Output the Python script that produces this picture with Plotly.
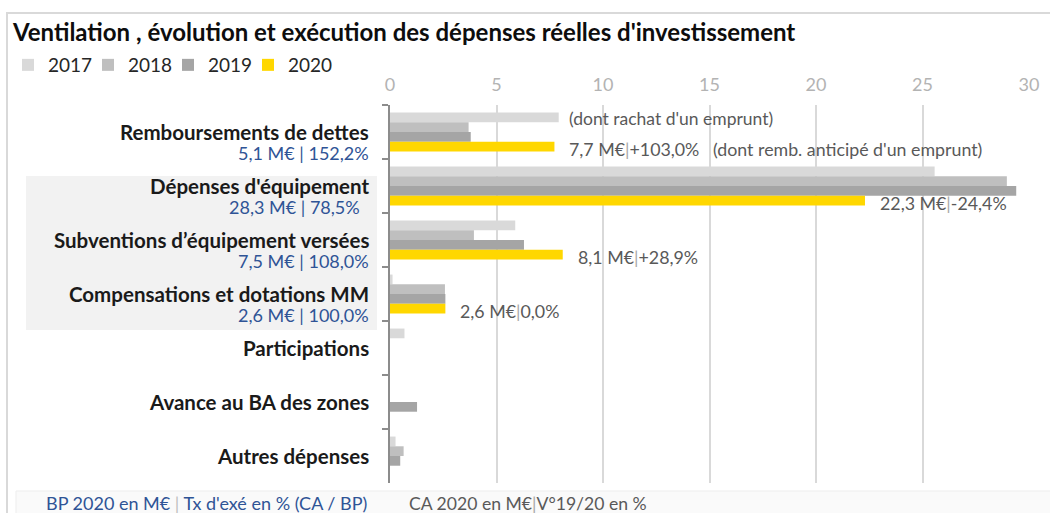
import plotly.graph_objects as go

# ---------------- data ----------------
categories = [
    "Remboursements de dettes",
    "Dépenses d'équipement",
    "Subventions d’équipement versées",
    "Compensations et dotations MM",
    "Participations",
    "Avance au BA des zones",
    "Autres dépenses",
]
bp_labels = ["5,1 M€ | 152,2%", "28,3 M€ | 78,5%  ", "7,5 M€ | 108,0%", "2,6 M€ | 100,0%", "", "", ""]

years = ["2017", "2018", "2019", "2020"]
v2017 = [7.92, 25.57, 5.88, 0.12, 0.68, 0.0, 0.26]
v2018 = [3.69, 28.96, 3.94, 2.58, 0.0, 0.0, 0.64]
v2019 = [3.79, 29.40, 6.29, 2.60, 0.0, 1.27, 0.48]
v2020 = [7.72, 22.30, 8.11, 2.60, 0.0, 0.0, 0.0]
series = [v2017, v2018, v2019, v2020]

ca_labels = ["7,7 M€", "22,3 M€", "8,1 M€", "2,6 M€", "", "", ""]
var_labels = ["+103,0%", "-24,4%", "+28,9%", "0,0%", "", "", ""]
note_2017 = ["(dont rachat d'un emprunt)", "", "", "", "", "", ""]
note_2020 = ["(dont remb. anticipé d'un emprunt)", "", "", "", "", "", ""]

x_ticks = [0, 5, 10, 15, 20, 25, 30]

title = "Ventilation , évolution et exécution des dépenses réelles d'investissement"
SEP_BLUE = "<span style='color:#BFBFBF'>|</span>"
SEP_GREY = "<span style='color:#A6A6A6'>|</span>"
footer_left = "BP 2020 en M€ " + SEP_BLUE + " Tx d'exé en % (CA / BP)"
footer_right = "CA 2020 en M€" + SEP_GREY + "V°19/20 en %"

# ---------------- style ----------------
colors = ["#D9D9D9", "#BFBFBF", "#A5A5A5", "#FFD700"]
legend_widths = [35, 35, 35, 55]
FONT = "Lato"
W, H = 1050, 513
L, R, T, B = 390, 21, 105, 30
PW, PH = W - L - R, H - T - B


def px_x(px):
    return (px - L) / PW


def px_y(py):
    return (H - B - py) / PH


fig = go.Figure()
for name, vals, col, lw in zip(years, series, colors, legend_widths):
    fig.add_trace(go.Bar(
        y=categories, x=vals, name=name, orientation="h",
        marker=dict(color=col, line=dict(width=0)), legendwidth=lw,
        hovertemplate="%{y}<br>" + name + ": %{x:.1f} M€<extra></extra>",
    ))

annotations = []
# category labels + BP sublabels
for cat, bp in zip(categories, bp_labels):
    annotations.append(dict(
        x=px_x(371), xref="paper", y=cat, yref="y", xanchor="right", yanchor="middle",
        text=cat, showarrow=False, font=dict(family=FONT, size=20.5, color="#1A1A1A", weight="bold"),
    ))
    if bp:
        annotations.append(dict(
            x=px_x(371), xref="paper", y=cat, yref="y", xanchor="right", yanchor="middle",
            yshift=-21, text=bp, showarrow=False,
            font=dict(family=FONT, size=18, color="#2F5496"),
        ))

# value labels next to 2020 bars
for cat, val, ca, var, note in zip(categories, v2020, ca_labels, var_labels, note_2020):
    if not ca:
        continue
    txt = ca + SEP_GREY + var
    if note:
        txt += "   " + note
    annotations.append(dict(
        x=val, xref="x", y=cat, yref="y", xanchor="left", yanchor="middle",
        xshift=13, yshift=-17, text=txt, showarrow=False,
        font=dict(family=FONT, size=17.8, color="#595959"),
    ))
# note next to 2017 bar
for cat, val, note in zip(categories, v2017, note_2017):
    if note:
        annotations.append(dict(
            x=val, xref="x", y=cat, yref="y", xanchor="left", yanchor="middle",
            xshift=8, yshift=14, text=note, showarrow=False,
            font=dict(family=FONT, size=17.5, color="#595959"),
        ))

# footer
annotations.append(dict(x=px_x(44), xref="paper", y=px_y(503), yref="paper",
                        xanchor="left", yanchor="middle", text=footer_left, showarrow=False,
                        font=dict(family=FONT, size=18, color="#2F5496")))
annotations.append(dict(x=px_x(407), xref="paper", y=px_y(503), yref="paper",
                        xanchor="left", yanchor="middle", text=footer_right, showarrow=False,
                        font=dict(family=FONT, size=17.6, color="#595959")))

shapes = [
    # outer frame
    dict(type="rect", xref="paper", yref="paper", x0=px_x(7), x1=px_x(1070), y0=px_y(540), y1=px_y(13),
         line=dict(color="#D9D9D9", width=2), fillcolor="rgba(0,0,0,0)", layer="below"),
    # shaded label band
    dict(type="rect", xref="paper", yref="paper", x0=px_x(26), x1=px_x(377), y0=px_y(330), y1=px_y(176),
         line=dict(width=0), fillcolor="#F2F2F2", layer="below"),
    # footer band
    dict(type="rect", xref="paper", yref="paper", x0=px_x(16), x1=px_x(1070), y0=px_y(540), y1=px_y(491),
         line=dict(color="#EDEDED", width=1), fillcolor="#FAFAFA", layer="below"),
]

fig.update_layout(
    width=W, height=H,
    margin=dict(l=L, r=R, t=T, b=B, autoexpand=False),
    paper_bgcolor="white", plot_bgcolor="white",
    barmode="group", bargap=0.28, bargroupgap=0,
    font=dict(family=FONT, color="#404040"),
    title=dict(text=title, x=13 / W, xanchor="left", xref="container",
               y=1 - 33 / H, yanchor="middle", yref="container",
               font=dict(family=FONT, size=24, color="#0D0D0D", weight="bold")),
    legend=dict(orientation="h", x=px_x(8), xref="paper", y=px_y(65), yref="paper",
                xanchor="left", yanchor="middle",
                font=dict(family=FONT, size=19, color="#262626"), bgcolor="rgba(0,0,0,0)"),
    xaxis=dict(side="top", range=[0, 30], tickvals=x_ticks, ticktext=[str(t) for t in x_ticks],
               showgrid=True, gridcolor="#D9D9D9", gridwidth=1.5, zeroline=False,
               showline=False, ticks="", ticklabelstandoff=9,
               tickfont=dict(family=FONT, size=18, color="#B3B3B3"), fixedrange=True),
    yaxis=dict(range=[len(categories) - 0.5, -0.5], autorange=False, showticklabels=False,
               showline=True, linecolor="#8C8C8C",
               linewidth=1.5, ticks="outside", ticklen=6, tickcolor="#8C8C8C", tickwidth=1.5,
               tickson="boundaries", showgrid=False, zeroline=False, fixedrange=True),
    annotations=annotations,
    shapes=shapes,
    showlegend=True,
)

fig.write_html("out.html", config={"displayModeBar": False},
               post_script="document.body.style.margin='0';")
